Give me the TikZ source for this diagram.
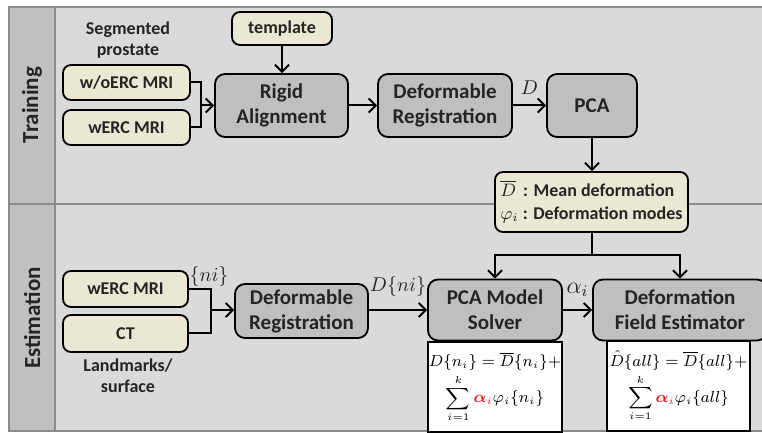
\documentclass[tikz,border=0pt]{standalone}
\usepackage{amsmath}
\usepackage{fontspec}
\setmainfont{Carlito}
\usepackage{xcolor}
\usepackage{tikz}
\usetikzlibrary{positioning,arrows.meta}
\definecolor{panelbg}{RGB}{218,218,218}
\definecolor{stripbg}{RGB}{192,192,192}
\definecolor{rulegray}{RGB}{140,140,140}
\definecolor{inputfill}{RGB}{234,231,210}
\definecolor{procfill}{RGB}{191,191,191}
\definecolor{txtdark}{RGB}{36,36,36}
\definecolor{alphared}{RGB}{235,30,40}

\tikzset{
  inbox/.style={draw=black, line width=0.9pt, rounded corners=4pt,
    fill=inputfill, text=txtdark, inner sep=1pt,
    font=\bfseries\fontsize{9}{10.5}\selectfont},
  procbox/.style={draw=black, line width=0.9pt, rounded corners=5pt,
    fill=procfill, text=txtdark, align=center, inner sep=1pt,
    font=\bfseries\fontsize{10.5}{12.5}\selectfont},
  formbox/.style={draw=black, line width=0.9pt, fill=white, inner sep=0.5pt,
    align=center, font=\fontsize{7.6}{9}\selectfont},
  sidetext/.style={text=txtdark, align=center,
    font=\bfseries\fontsize{9}{10.5}\selectfont},
  lanetext/.style={text=txtdark, rotate=90,
    font=\bfseries\fontsize{11.5}{13}\selectfont},
  mathlbl/.style={text=txtdark, inner sep=1pt},
  wire/.style={line width=1pt, black},
  arr/.style={wire, -{Straight Barb[length=3.5pt,width=7pt]}},
}

\begin{document}
\begin{tikzpicture}[x=0.5pt, y=-0.5pt]
% Canvas in reference pixels (y down): two swim lanes, Training on
% top and Estimation below, each with a darker title strip on the left.
\useasboundingbox (0,0) rectangle (762,433);
\fill[panelbg] (9,7) rectangle (772,431);
\fill[stripbg] (9,7) rectangle (55,431);
\draw[rulegray, line width=1.1pt] (9,7) rectangle (772,431);
\draw[rulegray, line width=1.1pt] (55,7) -- (55,431);
\draw[rulegray, line width=1.1pt] (9,204) -- (772,204);
\node[lanetext] (lanetrain) at (32,105) {Training};
\node[lanetext] (laneest) at (32,318) {Estimation};

% Training lane: inputs -> rigid alignment -> registration -> PCA
\node[sidetext] (segtxt) at (128,40) {Segmented\\prostate};
\node[inbox, minimum width=50pt, minimum height=16.5pt]
  (tmpl) at (282,28.5) {template};
\node[inbox, minimum width=63.5pt, minimum height=17.5pt]
  (woerc) at (126.5,82.5) {w/oERC MRI};
\node[inbox, minimum width=63.5pt, minimum height=17.5pt]
  (werc) at (126.5,127.5) {wERC MRI};
\node[procbox, minimum width=66.5pt, minimum height=31.5pt]
  (rigid) at (281.5,105.5) {Rigid\\Alignment};
\node[procbox, minimum width=67pt, minimum height=31.5pt]
  (defreg) at (445,105.5) {Deformable\\Registration};
\node[procbox, minimum width=45pt, minimum height=31.5pt]
  (pca) at (592,105.5) {PCA};
\node[inbox, minimum width=96.5pt, minimum height=30pt, align=left]
  (meanbox) at (591.5,202)
  {$\overline{D}$\ \,: Mean deformation\\[1pt]$\varphi_i$ : Deformation modes};

\coordinate (jtrain) at (201,105.5);
\draw[wire] (woerc.east) -| (jtrain) |- (werc.east);
\draw[arr] (jtrain) -- (rigid.west);
\draw[arr] (tmpl.south) -- (rigid.north -| tmpl.south);
\draw[arr] (rigid.east) -- (defreg.west);
\draw[arr] (defreg.east) -- node[mathlbl, above=4pt] (dlbl) {$D$} (pca.west);
\draw[arr] (pca.south) -- (meanbox.north -| pca.south);

% Estimation lane: inputs -> registration -> PCA model solver -> field
\node[inbox, minimum width=62.5pt, minimum height=18pt]
  (werctwo) at (125.5,289) {wERC MRI};
\node[inbox, minimum width=62.5pt, minimum height=18.5pt]
  (ct) at (125.5,333.5) {CT};
\node[sidetext] (landtxt) at (128,376) {Landmarks/\\surface};
\node[procbox, minimum width=66.5pt, minimum height=27pt]
  (defregtwo) at (301.5,311) {Deformable\\Registration};
\node[procbox, minimum width=67pt, minimum height=30.5pt]
  (solver) at (495,310) {PCA Model\\Solver};
\node[procbox, minimum width=87pt, minimum height=30.5pt]
  (fieldest) at (680,310) {Deformation\\Field Estimator};
\node[formbox, minimum width=65pt, minimum height=45pt, anchor=north]
  (solverform) at (solver.south)
  {$D\{n_i\}=\overline{D}\{n_i\}+$\\[1pt]
   $\displaystyle\sum_{i=1}^{k}{\color{alphared}\boldsymbol{\alpha}_i}\varphi_i\{n_i\}$};
\node[formbox, minimum width=71.5pt, minimum height=45pt, anchor=north]
  (fieldform) at (678.5,340.5)
  {$\hat{D}\{all\}=\overline{D}\{all\}+$\\[1pt]
   $\displaystyle\sum_{i=1}^{k}{\color{alphared}\boldsymbol{\alpha}_i}\varphi_i\{all\}$};

\coordinate (jest) at (211,310);
\draw[wire] (werctwo.east) -| (jest) |- (ct.east);
\draw[arr] (jest) -- (jest -| defregtwo.west);
\node[mathlbl] (nilbl) at (209,277) {$\{ni\}$};
\draw[arr] (solver.west -| defregtwo.east) -- node[mathlbl, above=5pt]
  (dnilbl) {$D\{ni\}$} (solver.west);
\draw[arr] (solver.east) -- node[mathlbl, above=5pt] (alphalbl)
  {\large$\alpha_i$} (fieldest.west);

% Mean and modes feed both estimation stages
\coordinate (split) at (591.5,255);
\draw[wire] (meanbox.south) -- (split);
\draw[arr] (split) -| (solver.north);
\draw[arr] (split) -| (fieldest.north);
\end{tikzpicture}
\end{document}
